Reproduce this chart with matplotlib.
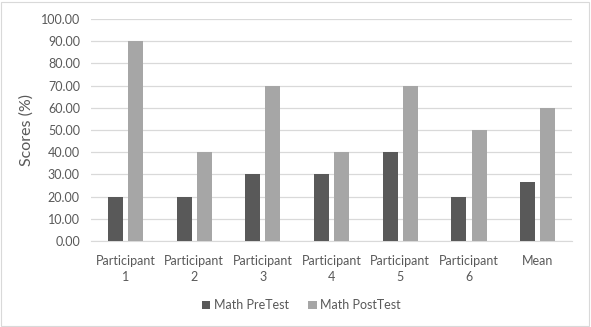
import numpy as np
import matplotlib.pyplot as plt

# --- data ---
categories = ['Participant\n1', 'Participant\n2', 'Participant\n3', 'Participant\n4',
              'Participant\n5', 'Participant\n6', 'Mean']
pre_test = [20, 20, 30, 30, 40, 20, 26.67]
post_test = [90, 40, 70, 40, 70, 50, 60]
series_names = ['Math PreTest', 'Math PostTest']

plt.rcParams['font.family'] = ['Lato', 'DejaVu Sans']
text_col = '#595959'

fig = plt.figure(figsize=(5.91, 3.27), dpi=100)
ax = fig.add_axes([0.154, 0.263, 0.814, 0.679])

x = np.arange(len(categories))
w = 0.218
off = 0.146
ax.bar(x - off, pre_test, w, color='#595959', label=series_names[0], zorder=3)
ax.bar(x + off, post_test, w, color='#a6a6a6', label=series_names[1], zorder=3)

ax.set_xlim(-0.5, len(categories) - 0.5)
ax.set_ylim(0, 100)
ax.set_yticks(np.arange(0, 101, 10))
ax.set_yticklabels([f'{v:.2f}' for v in np.arange(0, 101, 10)])
ax.set_xticks(x)
ax.set_xticklabels(categories, linespacing=1.45)
ax.tick_params(colors=text_col, labelsize=9, length=0)
ax.tick_params(axis='x', pad=10)
ax.tick_params(axis='y', pad=8)
ax.grid(axis='y', color='#d9d9d9', linewidth=0.9, zorder=0)
for s in ['top', 'right', 'left']:
    ax.spines[s].set_visible(False)
ax.spines['bottom'].set_color('#d9d9d9')
ax.set_ylabel('Scores (%)', color=text_col, fontsize=11.5, labelpad=5)

fig.legend(loc='center', bbox_to_anchor=(0.51, 0.066), ncol=2, frameon=False,
           fontsize=9, labelcolor=text_col, handlelength=0.7, handleheight=0.7,
           handletextpad=0.3, columnspacing=1.5)

# chart border
fig.patches.append(plt.Rectangle((0.002, 0.003), 0.994, 0.99, transform=fig.transFigure,
                                 fill=False, edgecolor='#d9d9d9', linewidth=0.8))

fig.savefig('out.png', dpi=100)
